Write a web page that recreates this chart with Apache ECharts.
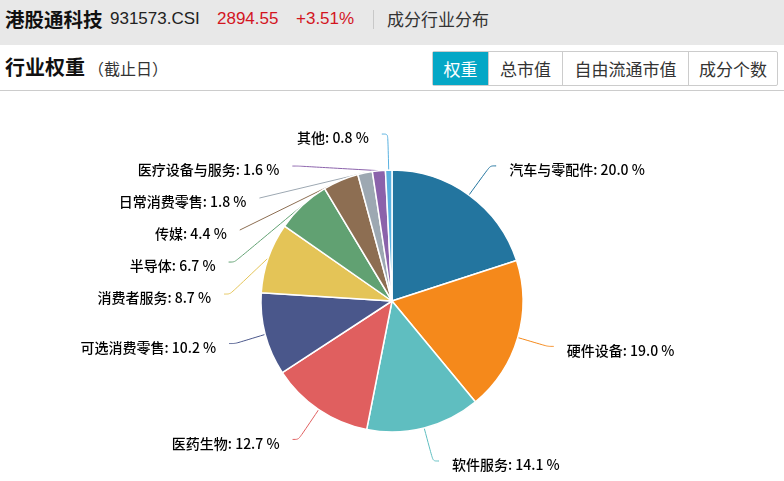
<!DOCTYPE html>
<html>
<head>
<meta charset="utf-8">
<script src="https://cdn.jsdelivr.net/npm/echarts@6/dist/echarts.min.js"></script>
<style>
  html, body { margin:0; padding:0; width:784px; height:481px; overflow:hidden; background:#fff;
    font-family: "Microsoft YaHei", "Noto Sans CJK SC", "Liberation Sans", sans-serif; }
  #top { position:absolute; left:0; top:0; width:784px; height:45px; background:#e8e8e8; }
  #top span { position:absolute; top:0; line-height:38px; white-space:nowrap; }
  #t1 { left:5px; font-size:19.5px; font-weight:bold; color:#111; }
  #t2 { left:110px; font-size:17px; color:#222; font-family:"Liberation Sans", Arial, sans-serif; }
  #t3 { left:217px; font-size:17px; color:#d3151f; font-family:"Liberation Sans", Arial, sans-serif; }
  #t4 { left:296px; font-size:17px; color:#d3151f; font-family:"Liberation Sans", Arial, sans-serif; }
  #sep { position:absolute; left:373px; top:10px; width:1px; height:19px; background:#c8c8c8; }
  #t5 { left:387px; font-size:17px; color:#333; }
  #row2 { position:absolute; left:0; top:45px; width:784px; height:45px; border-bottom:1px solid #ccc; }
  #h1 { position:absolute; left:5px; top:0; line-height:44px; font-size:20px; font-weight:bold; color:#111; }
  #h2 { position:absolute; left:88px; top:0; line-height:46px; font-size:16px; color:#333; }
  #btns { position:absolute; left:432px; top:6px; height:33px; border:1px solid #ccc; border-radius:2px; display:flex; }
  #btns div { height:33px; line-height:33px; font-size:17px; color:#333; text-align:center; border-left:1px solid #ccc; box-sizing:border-box; }
  #btns div:first-child { border-left:none; background:#05a7c6; color:#fff; }
  #chart { position:absolute; left:0; top:91px; width:784px; height:390px; }
</style>
</head>
<body>
<div id="top">
  <span id="t1">港股通科技</span>
  <span id="t2">931573.CSI</span>
  <span id="t3">2894.55</span>
  <span id="t4">+3.51%</span>
  <div id="sep"></div>
  <span id="t5">成分行业分布</span>
</div>
<div id="row2">
  <div id="h1">行业权重</div>
  <div id="h2">（截止日）</div>
  <div id="btns">
    <div style="width:55px">权重</div>
    <div style="width:74px">总市值</div>
    <div style="width:126px">自由流通市值</div>
    <div style="width:89px">成分个数</div>
  </div>
</div>
<div id="chart"></div>
<script>
const categories = ["汽车与零配件", "硬件设备", "软件服务", "医药生物", "可选消费零售", "消费者服务", "半导体", "传媒", "日常消费零售", "医疗设备与服务", "其他"];
const weights = [20.0, 19.0, 14.1, 12.7, 10.2, 8.7, 6.7, 4.4, 1.8, 1.6, 0.8];
const colors = ["#23759f", "#f5891b", "#5fbec0", "#e05f5f", "#4a578b", "#e4c457", "#61a172", "#8d6e52", "#9da8b2", "#8b62ab", "#59b1e0"];

const chart = echarts.init(document.getElementById('chart'));
chart.setOption({
  animation: false,
  color: colors,
  series: [{
    type: 'pie',
    center: [392, 210],
    radius: 131,
    startAngle: 90,
    clockwise: true,
    avoidLabelOverlap: true,
    itemStyle: { borderColor: '#fff', borderWidth: 1.5 },
    label: {
      show: true,
      fontSize: 14,
      fontWeight: 500,
      lineHeight: 20,
      color: '#000',
      fontFamily: '"Microsoft YaHei", "Noto Sans CJK SC", sans-serif',
      padding: [5, 8, 5, 8],
      offset: [0, 4],
      formatter: p => p.name + ': ' + p.value.toFixed(1) + ' %'
    },
    labelLine: { show: true, length: 36, length2: 6, smooth: true, lineStyle: { width: 1 } },
    data: categories.map((c, i) => ({ name: c, value: weights[i] }))
  }]
});
</script>
</body>
</html>
